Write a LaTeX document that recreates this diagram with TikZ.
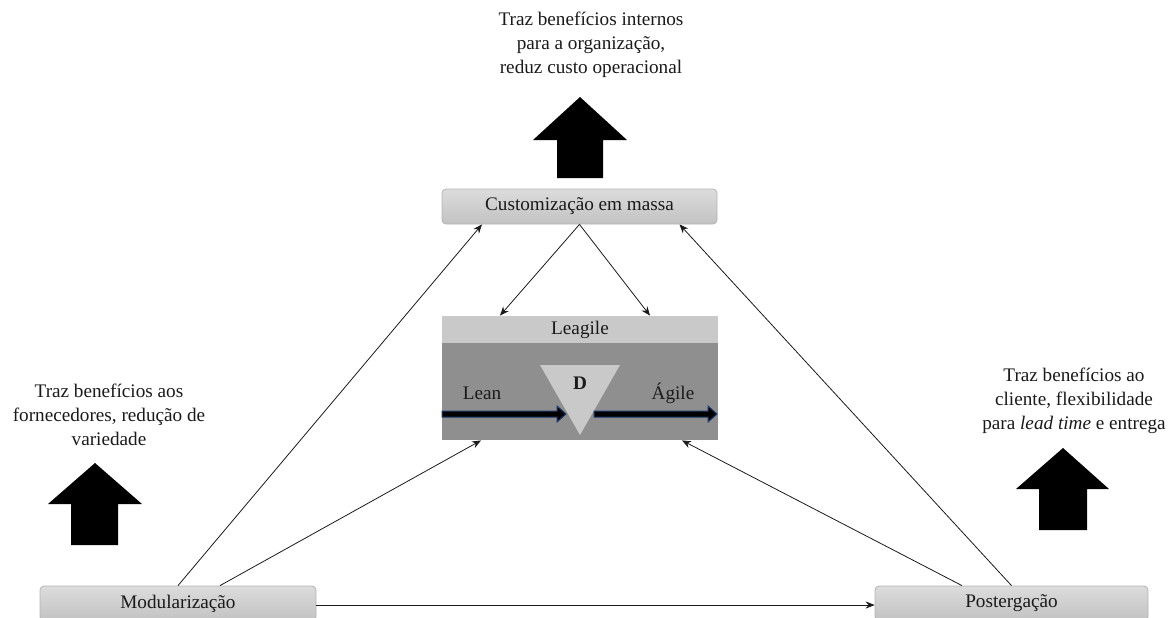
\documentclass[tikz,border=0pt]{standalone}
\usepackage{fontspec}
\setmainfont{Liberation Serif}
\usetikzlibrary{arrows.meta,calc}

\definecolor{ink}{HTML}{1A1A1A}
\definecolor{boxtop}{HTML}{DCDCDC}
\definecolor{boxbot}{HTML}{C2C2C2}
\definecolor{boxline}{HTML}{B4B4B4}
\definecolor{headgray}{HTML}{C9C9C9}
\definecolor{bodygray}{HTML}{8F8F8F}
\definecolor{trigray}{HTML}{C9C9C9}
\definecolor{flowblue}{HTML}{1F3A6E}

\tikzset{
  conceptbox/.style={rectangle, rounded corners=2pt, draw=boxline, line width=0.4pt,
    top color=boxtop, bottom color=boxbot, text=ink, inner sep=0pt,
    minimum height=17.5pt, font=\fontsize{9.6}{12}\selectfont},
  note/.style={align=center, text=ink, inner sep=0pt, font=\fontsize{9.6}{12}\selectfont},
  link/.style={draw=ink, line width=0.4pt, -{Stealth[length=4.5pt,width=3.6pt]}},
  bigarrow/.style={fill=black, draw=none},
  flowarrow/.style={fill=black, draw=flowblue, line width=0.5pt},
}

\begin{document}
\begin{tikzpicture}[x=0.5pt, y=-0.5pt]
  \useasboundingbox (0,0) rectangle (1169,617);
  \clip (0,0) rectangle (1169,617);

  % benefit notes
  \node[note] (topnote) at (591,45) {Traz benefícios internos\\para a organização,\\reduz custo operacional};
  \node[note] (leftnote) at (109,415) {Traz benefícios aos\\fornecedores, redução de\\variedade};
  \node[note] (rightnote) at (1074,401) {Traz benefícios ao\\cliente, flexibilidade\\para \textit{lead time} e entrega};

  % block arrows
  \path[bigarrow] (580,97) -- (627,140) -- (603,140) -- (603,178) -- (557,178) -- (557,140) -- (533,140) -- cycle;
  \path[bigarrow] (95,463) -- (142,504) -- (118,504) -- (118,545) -- (71,545) -- (71,504) -- (48,504) -- cycle;
  \path[bigarrow] (1063,448) -- (1109,489) -- (1087,489) -- (1087,530) -- (1039,530) -- (1039,489) -- (1016,489) -- cycle;

  % concept boxes
  \node[conceptbox, minimum width=137.5pt] (cust) at (579.5,206.5) {Customização em massa};
  \node[conceptbox, minimum width=138pt] (mod) at (178,603.5) {Modularização};
  \node[conceptbox, minimum width=136.5pt] (post) at (1011.5,603.5) {Postergação};

  % leagile block
  \node[rectangle, fill=bodygray, draw=none, minimum width=138pt, minimum height=48.5pt, inner sep=0pt] (body) at (580,391.5) {};
  \node[rectangle, fill=headgray, draw=none, minimum width=138pt, minimum height=13.5pt, inner sep=0pt,
        text=ink, font=\fontsize{9.6}{12}\selectfont] (head) at (580,329.5) {Leagile};
  \path[fill=trigray] (540,365) -- (620,365) -- (580,435) -- cycle;
  \node[text=ink, font=\fontsize{9.6}{12}\selectfont\bfseries, inner sep=0pt] (dpoint) at (580,383) {D};
  \node[text=ink, font=\fontsize{9.6}{12}\selectfont, inner sep=0pt] (lean) at (482,393) {Lean};
  \node[text=ink, font=\fontsize{9.6}{12}\selectfont, inner sep=0pt] (agile) at (673,393) {Ágile};
  \path[flowarrow] (442,411) -- (557,411) -- (557,406) -- (566,414) -- (557,422) -- (557,417) -- (442,417) -- cycle;
  \path[flowarrow] (594,411) -- (708,411) -- (708,406) -- (717,414) -- (708,422) -- (708,417) -- (594,417) -- cycle;

  % connectors
  \draw[link] (mod.north) -- ([xshift=-48.75pt]cust.south);
  \draw[link] ([xshift=21pt]mod.north) -- ([xshift=-49.5pt]body.south);
  \draw[link] (cust.south) -- ([xshift=-40pt]head.north);
  \draw[link] (cust.south) -- ([xshift=35pt]head.north);
  \draw[link] ([xshift=-24.75pt]post.north) -- ([xshift=51pt]body.south);
  \draw[link] (post.north) -- ([xshift=50pt]cust.south);
  \draw[link] ([yshift=-0.75pt]mod.east) -- ([yshift=-0.75pt]post.west);
\end{tikzpicture}
\end{document}
